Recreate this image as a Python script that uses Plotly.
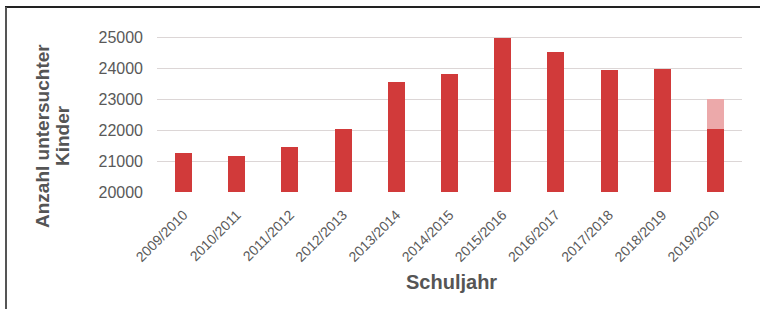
import plotly.graph_objects as go

categories = ["2009/2010", "2010/2011", "2011/2012", "2012/2013", "2013/2014",
              "2014/2015", "2015/2016", "2016/2017", "2017/2018", "2018/2019", "2019/2020"]
values = [21250, 21160, 21460, 22040, 23560, 23800, 24970, 24540, 23960, 23980, 22030]
extra = [0, 0, 0, 0, 0, 0, 0, 0, 0, 0, 970]
y_ticks = [20000, 21000, 22000, 23000, 24000, 25000]

W, H = 760, 309
L, R, T, B = 157, 18, 25, 117
pw, ph = W - L - R, H - T - B

def px(x):
    return (x - L) / pw

def py(y):
    return (H - B - y) / ph

text_col = "#595959"
fig = go.Figure()
fig.add_bar(x=categories, y=values, marker_color="#d13a3a", marker_line_width=0)
fig.add_bar(x=categories, y=extra, marker_color="#eca9aa", marker_line_width=0)

title_font = dict(size=19, color="#555555")
fig.update_layout(
    width=W, height=H, barmode="stack", bargap=0.68, showlegend=False,
    margin=dict(l=L, r=R, t=T, b=B),
    paper_bgcolor="white", plot_bgcolor="white",
    font=dict(family="Liberation Sans, Arial, sans-serif", color=text_col),
    xaxis=dict(tickangle=-45, tickfont=dict(size=14, color=text_col), showgrid=False,
               showline=False, ticks="", ticklabelstandoff=11),
    yaxis=dict(range=[20000, 25400], tickvals=y_ticks, ticktext=[str(v) for v in y_ticks],
               tickfont=dict(size=16, color=text_col), gridcolor="#dcd6d6", gridwidth=1,
               zeroline=False, showline=False, ticks="", ticklabelstandoff=13),
    annotations=[
        dict(text="<b>Anzahl untersuchter</b>", textangle=-90, x=px(42), y=py(136),
             xref="paper", yref="paper", xanchor="center", yanchor="middle", showarrow=False,
             font=title_font),
        dict(text="<b>Kinder</b>", textangle=-90, x=px(62), y=py(136),
             xref="paper", yref="paper", xanchor="center", yanchor="middle", showarrow=False,
             font=title_font),
        dict(text="<b>Schuljahr</b>", x=px(451), y=py(282), xref="paper", yref="paper",
             xanchor="center", yanchor="middle", showarrow=False,
             font=dict(size=20, color="#555555")),
    ],
    shapes=[
        dict(type="line", xref="paper", yref="paper", x0=px(5), x1=px(760), y0=py(7), y1=py(7),
             line=dict(color="#222222", width=2)),
        dict(type="line", xref="paper", yref="paper", x0=px(6), x1=px(6), y0=py(7), y1=py(309),
             line=dict(color="#555555", width=2)),
    ],
)

fig.write_html("out.html", config={"displayModeBar": False},
               post_script="document.body.style.margin='0';")
